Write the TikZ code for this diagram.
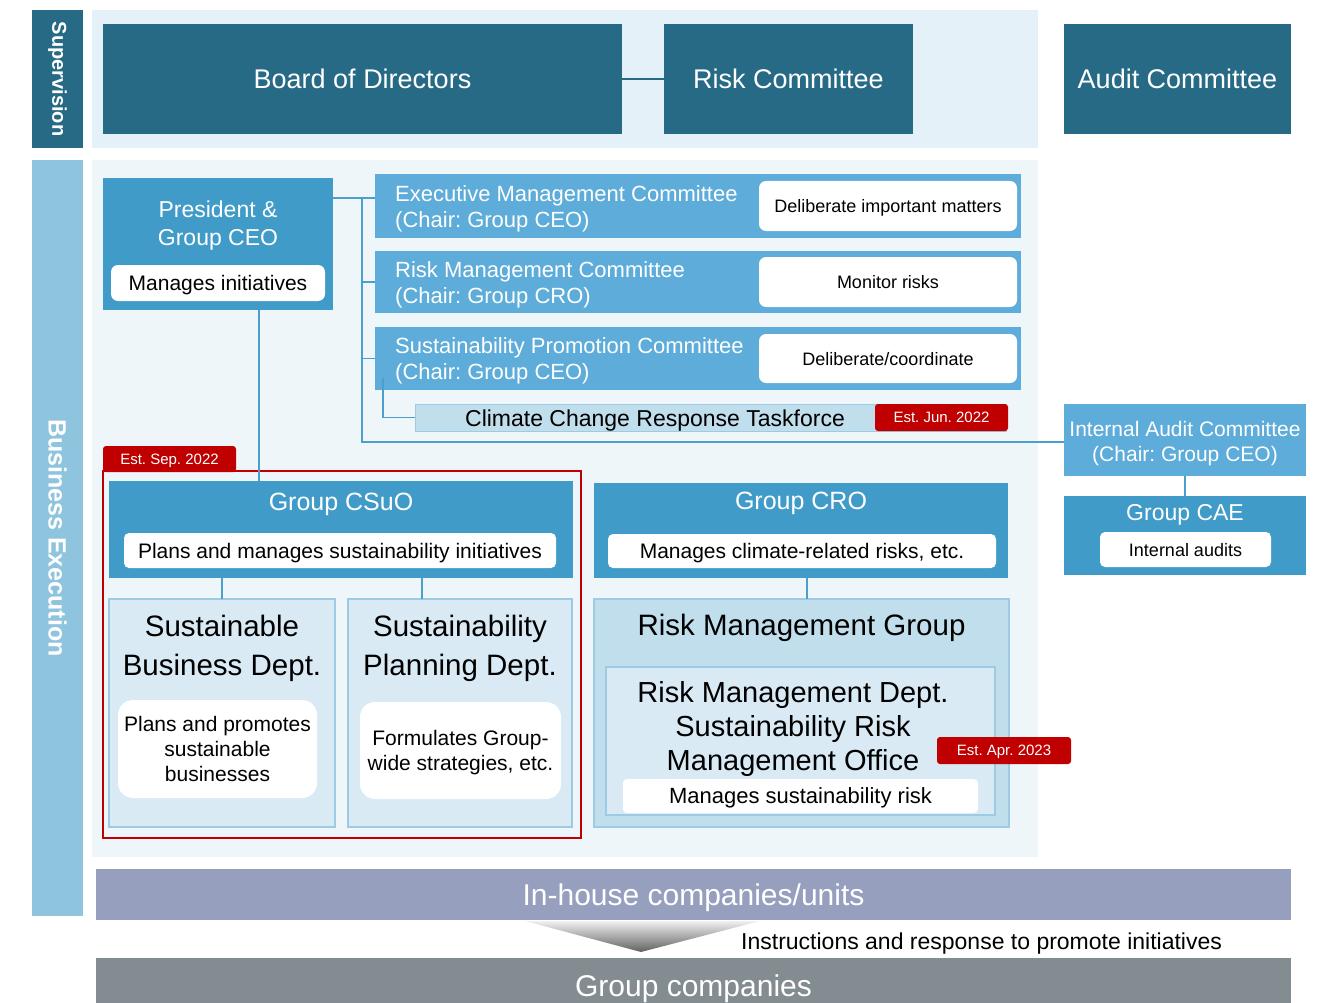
\documentclass[tikz,border=0pt]{standalone}
\usepackage{fontspec}
\setmainfont{Liberation Sans}
\frenchspacing
\definecolor{deepteal}{HTML}{276A86}
\definecolor{supbg}{HTML}{E5F1F8}
\definecolor{exeband}{HTML}{8FC4DF}
\definecolor{exebg}{HTML}{EEF6FA}
\definecolor{chiefblue}{HTML}{419BC8}
\definecolor{cmtblue}{HTML}{5DACD9}
\definecolor{paleblue}{HTML}{C1DEEC}
\definecolor{paleblue2}{HTML}{D9EAF4}
\definecolor{edgeblue}{HTML}{9CCBE3}
\definecolor{linkblue}{HTML}{4A9FCC}
\definecolor{estred}{HTML}{C00000}
\definecolor{inhouse}{HTML}{96A0BE}
\definecolor{groupco}{HTML}{828C91}
\tikzset{block/.style = {inner sep = 0, outer sep = 0}}
\tikzset{boardbox/.style = {block, fill = deepteal, text = white, text depth = 0pt, font = \fontsize{27}{32}\selectfont}}
\tikzset{chiefbox/.style = {block, fill = chiefblue}}
\tikzset{cmtbox/.style = {block, fill = cmtblue}}
\tikzset{deptbox/.style = {block, fill = paleblue2, draw = edgeblue, line width = 1.2pt}}
\tikzset{groupbox/.style = {block, fill = paleblue, draw = edgeblue, line width = 1.2pt}}
\tikzset{notebox/.style = {block, fill = white, rounded corners = 7pt, align = center, text depth = 0pt, font = \fontsize{21}{25}\selectfont}}
\tikzset{tagbox/.style = {block, fill = estred, text = white, rounded corners = 3pt, text depth = 0pt, font = \fontsize{15}{18}\selectfont}}
\tikzset{wtitle/.style = {inner sep = 0, text = white, align = center, text depth = 0pt}}
\tikzset{btitle/.style = {inner sep = 0, text = black, align = center, text depth = 0pt}}
\tikzset{link/.style = {draw = linkblue, line width = 1.3pt}}

\begin{document}
\begin{tikzpicture}[x = 1pt, y = -1pt]
    \useasboundingbox (0, 0) rectangle (1319, 1003);
    % bands and panels
    \node [block, fill = deepteal, minimum width = 51pt, minimum height = 138pt] (supband) at (57.5, 79) {};
    \node [rotate = -90, text = white, font = \bfseries\fontsize{20}{24}\selectfont] (suplabel) at (supband.center) {Supervision};
    \node [block, fill = supbg, minimum width = 946pt, minimum height = 138pt] (suppanel) at (565, 79) {};
    \node [block, fill = exeband, minimum width = 51pt, minimum height = 756pt] (exeband) at (57.5, 538) {};
    \node [rotate = -90, text = white, font = \bfseries\fontsize{25}{30}\selectfont] (exelabel) at (exeband.center) {Business Execution};
    \node [block, fill = exebg, minimum width = 946pt, minimum height = 697pt] (exepanel) at (565, 508.5) {};
    % supervision
    \node [boardbox, minimum width = 519pt, minimum height = 110pt] (board) at (362.5, 79) {Board of Directors};
    \node [boardbox, minimum width = 249pt, minimum height = 110pt] (riskcom) at (788.5, 79) {Risk Committee};
    \node [boardbox, minimum width = 227pt, minimum height = 110pt] (auditcom) at (1177.5, 79) {Audit Committee};
    % president and committees
    \node [chiefbox, minimum width = 230pt, minimum height = 132pt] (ceo) at (218, 244) {};
    \node [wtitle, font = \fontsize{23}{28}\selectfont] (ceotitle) at (218, 223) {President \&\\Group CEO};
    \node [notebox, minimum width = 214pt, minimum height = 36pt] (ceonote) at (218, 283) {Manages initiatives};
    \node [cmtbox, minimum width = 646pt, minimum height = 64pt] (emc) at (698, 206) {};
    \node [wtitle, align = left, anchor = west, font = \fontsize{22}{26}\selectfont] (emctext) at (395, 207) {Executive Management Committee\\(Chair: Group CEO)};
    \node [notebox, font = \fontsize{18}{22}\selectfont, minimum width = 258pt, minimum height = 50pt] (emcnote) at (888, 206) {Deliberate important matters};
    \node [cmtbox, minimum width = 646pt, minimum height = 62pt] (rmc) at (698, 282) {};
    \node [wtitle, align = left, anchor = west, font = \fontsize{22}{26}\selectfont] (rmctext) at (395, 283) {Risk Management Committee\\(Chair: Group CRO)};
    \node [notebox, font = \fontsize{18}{22}\selectfont, minimum width = 258pt, minimum height = 50pt] (rmcnote) at (888, 282) {Monitor risks};
    \node [cmtbox, minimum width = 646pt, minimum height = 63pt] (spc) at (698, 358.5) {};
    \node [wtitle, align = left, anchor = west, font = \fontsize{22}{26}\selectfont] (spctext) at (395, 359) {Sustainability Promotion Committee\\(Chair: Group CEO)};
    \node [notebox, font = \fontsize{18}{22}\selectfont, minimum width = 258pt, minimum height = 49pt] (spcnote) at (888, 358.5) {Deliberate/coordinate};
    \node [groupbox, line width = 1pt, minimum width = 591pt, minimum height = 27pt] (ccrt) at (710.5, 417.5) {};
    \node [btitle, font = \fontsize{23}{27}\selectfont] (ccrttext) at (655, 418) {Climate Change Response Taskforce};
    \node [tagbox, minimum width = 133pt, minimum height = 27pt] (juntag) at (941.5, 417.5) {Est. Jun. 2022};
    % internal audit
    \node [cmtbox, minimum width = 242pt, minimum height = 72pt] (iac) at (1185, 440) {};
    \node [wtitle, font = \fontsize{21}{25}\selectfont] (iactext) at (1185, 441) {Internal Audit Committee\\(Chair: Group CEO)};
    \node [chiefbox, minimum width = 242pt, minimum height = 79pt] (cae) at (1185, 535.5) {};
    \node [wtitle, font = \fontsize{23}{27}\selectfont] (caetitle) at (1185, 512) {Group CAE};
    \node [notebox, font = \fontsize{18}{22}\selectfont, rounded corners = 5pt, minimum width = 171pt, minimum height = 35pt] (caenote) at (1185.5, 549.5) {Internal audits};
    % sustainability office
    \node [tagbox, minimum width = 133pt, minimum height = 26pt] (septag) at (169.5, 459) {Est. Sep. 2022};
    \node [block, draw = estred, line width = 2pt, minimum width = 478pt, minimum height = 367pt] (sepframe) at (342, 654.5) {};
    \node [chiefbox, minimum width = 464pt, minimum height = 97pt] (csuo) at (341, 529.5) {};
    \node [wtitle, font = \fontsize{25}{30}\selectfont] (csuotitle) at (341, 502) {Group CSuO};
    \node [notebox, rounded corners = 5pt, minimum width = 432pt, minimum height = 35pt] (csuonote) at (340, 550.5) {Plans and manages sustainability initiatives};
    \node [deptbox, minimum width = 226pt, minimum height = 228pt] (sbd) at (222, 713) {};
    \node [btitle, font = \fontsize{29.5}{39}\selectfont] (sbdtitle) at (222, 645.5) {Sustainable\\Business Dept.};
    \node [notebox, rounded corners = 15pt, minimum width = 199pt, minimum height = 98pt] (sbdnote) at (217.5, 749) {Plans and promotes\\sustainable\\businesses};
    \node [deptbox, minimum width = 224pt, minimum height = 228pt] (spd) at (460, 713) {};
    \node [btitle, font = \fontsize{29.5}{39}\selectfont] (spdtitle) at (460, 645.5) {Sustainability\\Planning Dept.};
    \node [notebox, rounded corners = 15pt, minimum width = 201pt, minimum height = 97pt] (spdnote) at (460.5, 750.5) {Formulates Group-\\wide strategies, etc.};
    % risk side
    \node [chiefbox, minimum width = 414pt, minimum height = 95pt] (cro) at (801, 530.5) {};
    \node [wtitle, font = \fontsize{25}{30}\selectfont] (crotitle) at (801, 501) {Group CRO};
    \node [notebox, rounded corners = 5pt, minimum width = 388pt, minimum height = 34pt] (cronote) at (802, 551) {Manages climate-related risks, etc.};
    \node [groupbox, minimum width = 415pt, minimum height = 228pt] (rmg) at (801.5, 713) {};
    \node [btitle, font = \fontsize{29.5}{35}\selectfont] (rmgtitle) at (801.5, 625) {Risk Management Group};
    \node [deptbox, minimum width = 389pt, minimum height = 148pt] (rmd) at (800.5, 741) {};
    \node [btitle, font = \fontsize{29}{34}\selectfont] (rmdtitle) at (793, 726) {Risk Management Dept.\\Sustainability Risk\\Management Office};
    \node [notebox, rounded corners = 4pt, font = \fontsize{22}{26}\selectfont, minimum width = 355pt, minimum height = 34pt] (rmdnote) at (800.5, 796) {Manages sustainability risk};
    \node [tagbox, minimum width = 134pt, minimum height = 27pt] (aprtag) at (1004, 750.5) {Est. Apr. 2023};
    % companies
    \node [block, fill = inhouse, text = white, text depth = 0pt, font = \fontsize{30}{36}\selectfont, minimum width = 1195pt, minimum height = 51pt] (inhouse) at (693.5, 894.5) {In-house companies/units};
    \shade [top color = black!6, bottom color = black!62] (525, 921) -- (760, 921) -- (641, 952) -- cycle;
    \node [btitle, anchor = west, font = \fontsize{23}{27}\selectfont] (instr) at (741, 941) {Instructions and response to promote initiatives};
    \node [block, fill = groupco, text = white, text depth = 0pt, font = \fontsize{30}{36}\selectfont, minimum width = 1195pt, minimum height = 56pt] (groupco) at (693.5, 986) {Group companies};
    % connectors
    \draw [link, draw = deepteal, line width = 2pt] (board.east) -- (riskcom.west);
    \coordinate (split) at (362, 198);
    \coordinate (audlink) at (362, 442);
    \draw [link] (ceo.east |- split) -- (emc.west |- split);
    \draw [link] (split) -- (audlink) -- (iac.west |- audlink);
    \draw [link] (split |- rmc.west) -- (rmc.west);
    \draw [link] (split |- spc.west) -- (spc.west);
    \coordinate (tfdrop) at (383, 378);
    \draw [link] (tfdrop) |- (ccrt.west);
    \coordinate (csuoin) at (259, 481);
    \draw [link] (csuoin |- ceo.south) -- (csuoin);
    \draw [link] (sbd.north |- csuo.south) -- (sbd.north);
    \coordinate (spdin) at (422, 599);
    \draw [link] (spdin |- csuo.south) -- (spdin);
    \coordinate (rmgin) at (807, 599);
    \draw [link] (rmgin |- cro.south) -- (rmgin);
    \draw [link] (iac.south) -- (cae.north);
  \end{tikzpicture}
\end{document}
